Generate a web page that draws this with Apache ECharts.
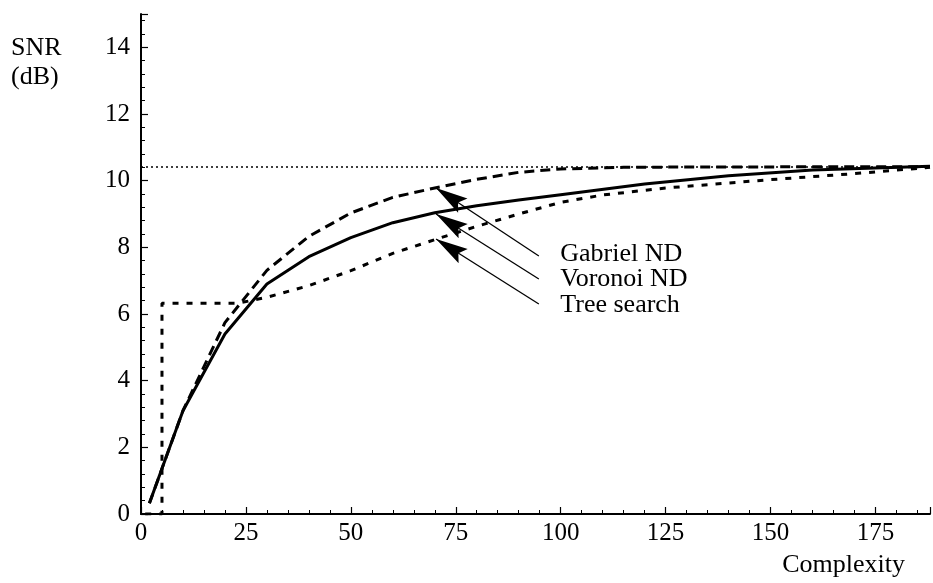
<!DOCTYPE html>
<html>
	<head>
		<meta charset="UTF-8">
		<title></title>
		<script src="https://cdn.jsdelivr.net/npm/echarts@6/dist/echarts.min.js"></script>
		<style>
			html,
			body {
				width: 100%;
				height: 100%;
				margin: 0;
				padding: 0;
				background: #ffffff;
			}

			#chart {
				width: 933px;
				height: 583px;
			}
		</style>
	</head>
	<body>
		<div id="chart"></div>
	</body>
	<script>
		// data
		var voronoiX = [2, 10, 20, 30, 40, 50, 60, 70, 80, 90, 100, 120, 140, 160, 188];
		var voronoiY = [0.32, 3.1, 5.4, 6.9, 7.72, 8.29, 8.74, 9.04, 9.25, 9.42, 9.58, 9.9, 10.15, 10.32, 10.43];

		var gabrielX = [2, 10, 20, 30, 40, 50, 60, 70, 80, 90, 100, 115, 130, 188];
		var gabrielY = [0.32, 3.1, 5.74, 7.31, 8.33, 9.03, 9.5, 9.78, 10.04, 10.25, 10.35, 10.4, 10.41, 10.42];

		var treeX = [1, 5, 5, 23, 30, 40, 50, 60, 70, 80, 90, 100, 110, 125, 150, 170, 188];
		var treeY = [0, 0, 6.32, 6.32, 6.5, 6.85, 7.3, 7.82, 8.23, 8.63, 9.0, 9.35, 9.57, 9.78, 10.03, 10.21, 10.4];

		var limitY = 10.41;

		var labelNames = ['Gabriel ND', 'Voronoi ND', 'Tree search'];
		var labelX = [99.9, 99.9, 99.9];
		var labelY = [7.79, 7.04, 6.25];
		var arrowTipX = [70.3, 70.3, 70.3];
		var arrowTipY = [9.78, 9.0, 8.25];
		var arrowTailX = [94.8, 94.8, 94.8];
		var arrowTailY = [7.74, 7.05, 6.3];

		var xTicks = [0, 25, 50, 75, 100, 125, 150, 175];
		var yTicks = [0, 2, 4, 6, 8, 10, 12, 14];

		var font = 'Liberation Serif';
		// narrow arrow head, tip at the symbol centre (specks keep the box square)
		var arrowHead = 'path://M0,0L4.5,17L0,14L-4.5,17Z M-18,-18h0.01v0.01z M18,18h0.01v0.01z';

		function pairs(xs, ys) {
			var out = [];
			for(var i = 0; i < xs.length; i++) {
				out.push([xs[i], ys[i]]);
			}
			return out;
		}

		function axisCommon(ticks) {
			return {
				type: 'value',
				splitLine: { show: false },
				axisLine: { show: true, onZero: false, lineStyle: { color: '#000', width: 2 } },
				axisTick: { show: true, inside: true, length: 7, lineStyle: { color: '#000', width: 1.2 } },
				minorTick: { show: true, splitNumber: 5, length: 4, lineStyle: { color: '#000', width: 1 } },
				axisLabel: {
					color: '#000',
					fontFamily: font,
					fontSize: 25,
					formatter: function(v) {
						return ticks.indexOf(v) >= 0 ? String(v) : '';
					}
				}
			};
		}

		var xAxis = axisCommon(xTicks);
		xAxis.min = 0;
		xAxis.max = 188;
		xAxis.interval = 25;
		xAxis.axisLabel.margin = 7;

		var yAxis = axisCommon(yTicks);
		yAxis.min = 0;
		yAxis.max = 15;
		yAxis.interval = 2;
		yAxis.axisLabel.margin = 11;

		var arrows = [];
		for(var i = 0; i < labelNames.length; i++) {
			arrows.push({ coords: [[arrowTailX[i], arrowTailY[i]], [arrowTipX[i], arrowTipY[i]]] });
		}

		var labelPoints = [];
		for(var j = 0; j < labelNames.length; j++) {
			labelPoints.push({ name: labelNames[j], value: [labelX[j], labelY[j]] });
		}

		var myChart = echarts.init(document.getElementById('chart'), null, { renderer: 'canvas' });
		var option = {
			animation: false,
			backgroundColor: '#fff',
			grid: { left: 141, right: 0, top: 14, bottom: 69 },
			xAxis: xAxis,
			yAxis: yAxis,
			graphic: [{
				type: 'text',
				left: 11,
				top: 34,
				style: { text: 'SNR\n(dB)', font: '26px "Liberation Serif"', fill: '#000', lineHeight: 29 }
			}, {
				type: 'text',
				right: 28,
				top: 552,
				style: { text: 'Complexity', font: '26px "Liberation Serif"', fill: '#000' }
			}],
			series: [{
				name: 'limit',
				type: 'line',
				data: [[0, limitY], [188, limitY]],
				symbol: 'none',
				lineStyle: { color: '#000', width: 1.3, type: [2, 3] }
			}, {
				name: 'Tree search',
				type: 'line',
				data: pairs(treeX, treeY),
				symbol: 'none',
				lineStyle: { color: '#000', width: 3, type: [6, 8] }
			}, {
				name: 'Gabriel ND',
				type: 'line',
				data: pairs(gabrielX, gabrielY),
				symbol: 'none',
				lineStyle: { color: '#000', width: 3, type: [10, 6] }
			}, {
				name: 'Voronoi ND',
				type: 'line',
				data: pairs(voronoiX, voronoiY),
				symbol: 'none',
				lineStyle: { color: '#000', width: 3 }
			}, {
				type: 'lines',
				coordinateSystem: 'cartesian2d',
				symbol: ['none', arrowHead],
				symbolSize: 68,
				itemStyle: { color: '#000' },
				lineStyle: { color: '#000', width: 1.3, opacity: 1 },
				data: arrows
			}, {
				type: 'scatter',
				symbolSize: 0,
				itemStyle: { opacity: 1 },
				label: {
					show: true,
					position: 'right',
					distance: 0,
					color: '#000',
					opacity: 1,
					fontFamily: font,
					fontSize: 26,
					formatter: '{b}'
				},
				data: labelPoints
			}]
		};
		myChart.setOption(option);
	</script>
</html>
